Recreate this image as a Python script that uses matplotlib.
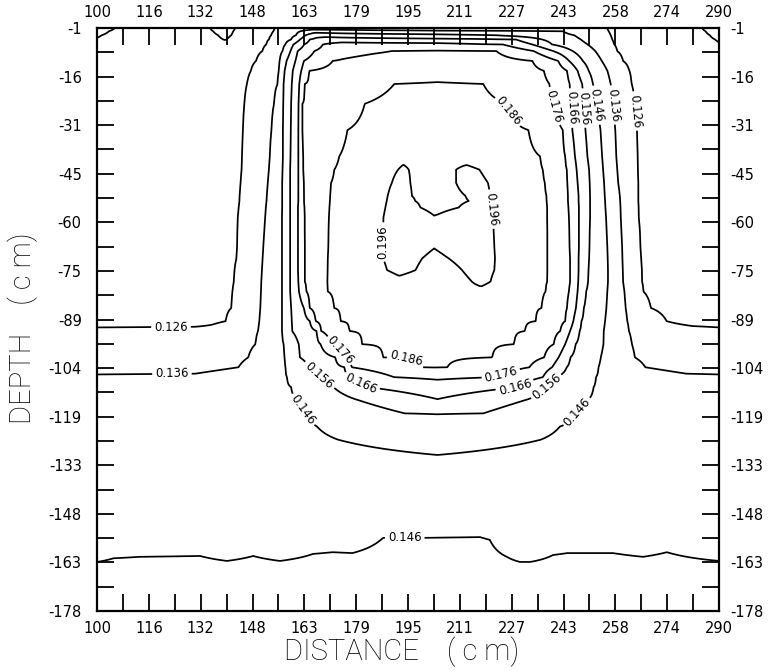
import numpy as np
import matplotlib
matplotlib.use("Agg")
import matplotlib.pyplot as plt

# ---------------------------------------------------------------- axis text
DIST_TICK_LABELS = ["100", "116", "132", "148", "163", "179", "195",
                    "211", "227", "243", "258", "274", "290"]
DEPTH_TICK_LABELS = ["-1", "-16", "-31", "-45", "-60", "-75", "-89",
                     "-104", "-119", "-133", "-148", "-163", "-178"]

LABELLED_LEVELS = [0.126, 0.136, 0.146, 0.156, 0.166, 0.176, 0.186, 0.196]
PLAIN_LEVELS = [0.116]

# where each isoline value is written (distance cm, depth cm)
LABEL_POINTS = [
    (122.6, -91.8), (122.9, -106.3),                      # 0.126 / 0.136 left
    (264.3, -26.2), (257.3, -24.4), (252.7, -24.4),       # right, upper part
    (248.6, -25.3), (245.0, -25.3), (239.8, -24.7), (227.0, -25.6),
    (187.4, -66.0), (220.5, -56.0),                       # 0.196
    (194.4, -102.7),                                      # 0.186
    (173.3, -99.4), (223.5, -106.6),                      # 0.176
    (180.6, -109.1), (227.8, -110.4),                     # 0.166
    (167.8, -106.6), (237.2, -109.4),                     # 0.156
    (163.5, -116.4), (246.4, -117.0), (194.0, -155.8),    # 0.146
]

# ------------------------------------------- lateral profiles (x cm, value)
p010 = [(100, 0.111), (105.5, 0.116), (112, 0.1195), (130, 0.1195), (134.5, 0.116),
        (139, 0.111), (142.2, 0.116), (148, 0.121), (154.4, 0.126), (160, 0.130),
        (250, 0.130), (255.8, 0.126), (262, 0.1215), (278, 0.1215), (284.8, 0.116),
        (290, 0.1105)]
p020 = [(100, 0.113), (103.6, 0.116), (110, 0.1195), (130, 0.1198), (135.5, 0.116),
        (139, 0.1128), (141.6, 0.116), (147, 0.1215), (153.9, 0.126), (162.1, 0.136),
        (166, 0.142), (185, 0.139), (204, 0.1375), (225, 0.137), (242.4, 0.136),
        (256.3, 0.126), (263, 0.1215), (278, 0.1215), (285.9, 0.116), (290, 0.112)]
p032 = [(100, 0.1152), (101.4, 0.116), (110, 0.1198), (130, 0.120), (137.0, 0.116),
        (139, 0.1145), (141.0, 0.116), (146, 0.121), (153.2, 0.126), (160.8, 0.136),
        (163.7, 0.146), (167, 0.153), (175, 0.151), (204, 0.1485), (222, 0.146),
        (230, 0.142), (245.8, 0.136), (256.9, 0.126), (263, 0.1215), (278, 0.1215),
        (287.2, 0.116), (290, 0.1135)]
p045 = [(100, 0.1165), (110, 0.1198), (130, 0.120), (138.6, 0.116), (139, 0.1158),
        (139.6, 0.116), (145, 0.121), (152.5, 0.126), (159.3, 0.136), (162.0, 0.146),
        (165.0, 0.156), (170, 0.161), (185, 0.159), (204, 0.158), (215, 0.1575),
        (228, 0.156), (236, 0.146), (247.8, 0.136), (257.4, 0.126), (263, 0.1215),
        (278, 0.1215), (288.8, 0.116), (290, 0.115)]
p060 = [(100, 0.118), (110, 0.120), (130, 0.1205), (139, 0.118), (145, 0.121),
        (151.7, 0.126), (157.5, 0.136), (160.0, 0.146), (163.3, 0.156), (169.0, 0.166),
        (175, 0.170), (204, 0.169), (218, 0.1665), (224, 0.166), (233, 0.156),
        (239, 0.146), (249.9, 0.136), (258.0, 0.126), (265, 0.1215), (280, 0.1215),
        (290, 0.1168)]
p080 = [(100, 0.1205), (130, 0.121), (143, 0.1215), (150.5, 0.126), (156.7, 0.136),
        (159.1, 0.146), (161.3, 0.156), (166.4, 0.166), (175, 0.173), (190, 0.176),
        (204, 0.1765), (222, 0.176), (233.4, 0.166), (239.4, 0.156), (245.3, 0.146),
        (252.2, 0.136), (258.9, 0.126), (266, 0.1215), (290, 0.121)]
p110 = [(100, 0.121), (140, 0.1215), (148.6, 0.126), (155.8, 0.136), (157.9, 0.146),
        (160.6, 0.156), (163.2, 0.166), (172.0, 0.176), (185, 0.179), (204, 0.180),
        (220, 0.1795), (233.0, 0.176), (240.9, 0.166), (244.2, 0.156), (248.4, 0.146),
        (254.2, 0.136), (260.7, 0.126), (268, 0.1215), (290, 0.121)]
p140 = [(100, 0.121), (139, 0.1215), (147.0, 0.126), (155.5, 0.136), (157.3, 0.146),
        (159.8, 0.156), (162.4, 0.166), (164.8, 0.176), (180, 0.181), (204, 0.183),
        (225, 0.1815), (236.5, 0.176), (243.6, 0.166), (246.8, 0.156), (250.2, 0.146),
        (255.9, 0.136), (262.6, 0.126), (270, 0.1215), (290, 0.121)]
p180 = [(100, 0.121), (138, 0.1215), (145.8, 0.126), (155.2, 0.136), (157.0, 0.146),
        (159.5, 0.156), (161.8, 0.166), (163.4, 0.176), (175, 0.182), (190.8, 0.186),
        (204, 0.1865), (218.0, 0.186), (230, 0.182), (238.2, 0.176), (244.4, 0.166),
        (248.2, 0.156), (251.5, 0.146), (256.9, 0.136), (263.3, 0.126), (271, 0.1215),
        (290, 0.121)]
p240 = [(100, 0.121), (137, 0.1215), (145.0, 0.126), (154.1, 0.136), (156.9, 0.146),
        (159.3, 0.156), (161.6, 0.166), (162.7, 0.176), (181.8, 0.186), (204, 0.189),
        (225.1, 0.186), (239.5, 0.176), (244.8, 0.166), (248.8, 0.156), (252.6, 0.146),
        (257.6, 0.136), (264.2, 0.126), (272, 0.1215), (290, 0.121)]
p320 = [(100, 0.121), (137, 0.1215), (144.6, 0.126), (153.3, 0.136), (156.8, 0.146),
        (159.2, 0.156), (161.5, 0.166), (162.7, 0.176), (176.5, 0.186), (204, 0.1915),
        (231.8, 0.186), (242.3, 0.176), (245.2, 0.166), (249.2, 0.156), (253.8, 0.146),
        (258.3, 0.136), (264.9, 0.126), (272, 0.1215), (290, 0.121)]
p400 = [(100, 0.121), (136, 0.1215), (144.3, 0.126), (152.8, 0.136), (156.8, 0.146),
        (159.1, 0.156), (161.5, 0.166), (162.9, 0.176), (174.0, 0.186), (193.5, 0.1935),
        (204, 0.193), (212, 0.1935), (235.4, 0.186), (243.0, 0.176), (246.0, 0.166),
        (249.8, 0.156), (254.3, 0.146), (258.6, 0.136), (265.1, 0.126), (273, 0.1215),
        (290, 0.121)]
p440 = [(100, 0.121), (136, 0.1215), (144.2, 0.126), (152.5, 0.136), (156.7, 0.146),
        (159.0, 0.156), (161.5, 0.166), (163.0, 0.176), (172.5, 0.186), (192.0, 0.196),
        (193.6, 0.1975), (195.2, 0.196), (202, 0.1935), (209.7, 0.196), (213, 0.1975),
        (216.8, 0.196), (236.2, 0.186), (243.5, 0.176), (246.5, 0.166), (250.3, 0.156),
        (254.6, 0.146), (258.9, 0.136), (265.2, 0.126), (273, 0.1215), (290, 0.121)]
p480 = [(100, 0.121), (136, 0.1215), (143.9, 0.126), (152.2, 0.136), (156.6, 0.146),
        (159.0, 0.156), (161.5, 0.166), (163.1, 0.176), (171.5, 0.186), (190.1, 0.196),
        (193, 0.1985), (195.7, 0.196), (202, 0.193), (209.7, 0.196), (214.5, 0.1985),
        (219.4, 0.196), (236.8, 0.186), (243.7, 0.176), (246.8, 0.166), (250.5, 0.156),
        (254.9, 0.146), (259.2, 0.136), (265.3, 0.126), (273, 0.1215), (290, 0.121)]
p520 = [(100, 0.121), (136, 0.1215), (143.6, 0.126), (151.9, 0.136), (156.6, 0.146),
        (159.0, 0.156), (161.5, 0.166), (163.2, 0.176), (171.2, 0.186), (188.8, 0.196),
        (192.5, 0.199), (196.2, 0.196), (204, 0.1935), (212.6, 0.196), (216.5, 0.199),
        (220.1, 0.196), (237.3, 0.186), (243.9, 0.176), (247.1, 0.166), (250.6, 0.156),
        (255.1, 0.146), (259.7, 0.136), (265.3, 0.126), (273, 0.1215), (290, 0.121)]
p535 = [(100, 0.121), (136, 0.1215), (143.5, 0.126), (151.8, 0.136), (156.6, 0.146),
        (159.0, 0.156), (161.5, 0.166), (163.2, 0.176), (171.1, 0.186), (188.5, 0.196),
        (192.5, 0.1992), (197.2, 0.196), (206, 0.1935), (213.6, 0.196), (217, 0.1992),
        (220.3, 0.196), (237.4, 0.186), (243.9, 0.176), (247.1, 0.166), (250.6, 0.156),
        (255.2, 0.146), (259.8, 0.136), (265.3, 0.126), (273, 0.1215), (290, 0.121)]
p555 = [(100, 0.121), (136, 0.1215), (143.3, 0.126), (151.6, 0.136), (156.6, 0.146),
        (159.0, 0.156), (161.4, 0.166), (163.3, 0.176), (171.0, 0.186), (188.1, 0.196),
        (193, 0.1995), (198.8, 0.196), (204, 0.1948), (210.5, 0.196), (216, 0.1995),
        (220.6, 0.196), (237.5, 0.186), (244.0, 0.176), (247.2, 0.166), (250.6, 0.156),
        (255.3, 0.146), (259.9, 0.136), (265.4, 0.126), (273, 0.1215), (290, 0.121)]
p585 = [(100, 0.121), (136, 0.1215), (143.0, 0.126), (151.4, 0.136), (156.5, 0.146),
        (159.0, 0.156), (161.4, 0.166), (163.4, 0.176), (170.8, 0.186), (187.5, 0.196),
        (193, 0.1995), (203, 0.1962), (215, 0.1995), (221.0, 0.196), (237.5, 0.186),
        (244.2, 0.176), (247.2, 0.166), (250.6, 0.156), (255.5, 0.146), (260.0, 0.136),
        (265.5, 0.126), (273, 0.1215), (290, 0.121)]
p630 = [(100, 0.121), (136, 0.1215), (142.9, 0.126), (151.1, 0.136), (156.5, 0.146),
        (159.0, 0.156), (161.4, 0.166), (163.4, 0.176), (170.7, 0.186), (187.4, 0.196),
        (195, 0.200), (210, 0.200), (221.2, 0.196), (237.6, 0.186), (244.3, 0.176),
        (247.2, 0.166), (250.5, 0.156), (255.7, 0.146), (260.2, 0.136), (265.8, 0.126),
        (273, 0.1215), (290, 0.121)]
p675 = [(100, 0.121), (136, 0.1215), (142.8, 0.126), (150.8, 0.136), (156.5, 0.146),
        (159.0, 0.156), (161.4, 0.166), (163.5, 0.176), (170.6, 0.186), (187.4, 0.196),
        (194, 0.1995), (203, 0.1962), (213, 0.1995), (221.4, 0.196), (237.6, 0.186),
        (244.4, 0.176), (247.2, 0.166), (250.4, 0.156), (255.9, 0.146), (260.4, 0.136),
        (266.0, 0.126), (274, 0.1215), (290, 0.121)]
p710 = [(100, 0.121), (136, 0.1215), (142.6, 0.126), (150.6, 0.136), (156.5, 0.146),
        (159.0, 0.156), (161.4, 0.166), (163.5, 0.176), (170.5, 0.186), (187.4, 0.196),
        (193, 0.1985), (199.3, 0.196), (203, 0.1945), (207.5, 0.196), (215, 0.1985),
        (221.6, 0.196), (237.6, 0.186), (244.5, 0.176), (247.1, 0.166), (250.3, 0.156),
        (256.0, 0.146), (260.5, 0.136), (266.2, 0.126), (274, 0.1215), (290, 0.121)]
p745 = [(100, 0.121), (135, 0.1215), (142.0, 0.126), (150.4, 0.136), (156.5, 0.146),
        (159.0, 0.156), (161.4, 0.166), (163.5, 0.176), (170.4, 0.186), (188.6, 0.196),
        (192.5, 0.1975), (197.3, 0.196), (204, 0.193), (211.5, 0.196), (216.5, 0.198),
        (221.4, 0.196), (237.6, 0.186), (244.5, 0.176), (247.1, 0.166), (250.1, 0.156),
        (256.1, 0.146), (260.6, 0.136), (266.4, 0.126), (274, 0.1215), (290, 0.121)]
p780 = [(100, 0.121), (134, 0.1215), (141.8, 0.126), (150.2, 0.136), (156.5, 0.146),
        (159.0, 0.156), (161.5, 0.166), (163.5, 0.176), (170.3, 0.186), (192, 0.1945),
        (204, 0.192), (214.5, 0.196), (217.5, 0.1975), (220.2, 0.196), (237.5, 0.186),
        (244.5, 0.176), (247.0, 0.166), (250.0, 0.156), (256.1, 0.146), (260.7, 0.136),
        (266.5, 0.126), (274, 0.1215), (290, 0.121)]
p810 = [(100, 0.121), (134, 0.1215), (141.4, 0.126), (150.1, 0.136), (156.5, 0.146),
        (159.0, 0.156), (161.7, 0.166), (164.0, 0.176), (170.5, 0.186), (195, 0.1925),
        (217, 0.1945), (237.0, 0.186), (244.2, 0.176), (246.8, 0.166), (249.4, 0.156),
        (255.9, 0.146), (261.1, 0.136), (266.9, 0.126), (275, 0.1215), (290, 0.121)]
p860 = [(100, 0.1215), (130, 0.122), (141.0, 0.126), (149.9, 0.136), (156.5, 0.146),
        (159.3, 0.156), (163.2, 0.166), (165.0, 0.176), (172.4, 0.186), (204, 0.191),
        (235.8, 0.186), (243.6, 0.176), (246.3, 0.166), (248.7, 0.156), (255.6, 0.146),
        (261.5, 0.136), (269.2, 0.126), (280, 0.122), (290, 0.1215)]
p900 = [(100, 0.1225), (130, 0.1228), (139.3, 0.126), (149.6, 0.136), (156.5, 0.146),
        (159.5, 0.156), (165.0, 0.166), (166.8, 0.176), (174.4, 0.186), (204, 0.1895),
        (234.0, 0.186), (243.0, 0.176), (245.5, 0.166), (248.0, 0.156), (255.2, 0.146),
        (262.0, 0.136), (274.0, 0.126), (282, 0.1228), (290, 0.1225)]
p930 = [(100, 0.128), (135, 0.1285), (149.2, 0.136), (156.5, 0.146), (159.6, 0.156),
        (167.1, 0.166), (168.5, 0.176), (177.1, 0.186), (204, 0.1885), (230.7, 0.186),
        (241.5, 0.176), (244.5, 0.166), (247.4, 0.156), (254.8, 0.146), (262.5, 0.136),
        (270, 0.131), (290, 0.128)]
p970 = [(100, 0.1295), (135, 0.130), (148.4, 0.136), (157.0, 0.146), (161.6, 0.156),
        (168.3, 0.166), (171.5, 0.176), (181.0, 0.186), (204, 0.1875), (227.4, 0.186),
        (239.5, 0.176), (243.0, 0.166), (246.2, 0.156), (254.7, 0.146), (263.4, 0.136),
        (272, 0.1305), (290, 0.1295)]
p1010 = [(100, 0.1305), (135, 0.131), (146.2, 0.136), (157.3, 0.146), (162.0, 0.156),
         (172.8, 0.166), (174.8, 0.176), (187.4, 0.186), (204, 0.1868), (220.7, 0.186),
         (236.6, 0.176), (241.0, 0.166), (244.6, 0.156), (253.9, 0.146), (264.3, 0.136),
         (275, 0.1315), (290, 0.1305)]
p1040 = [(100, 0.132), (130, 0.1323), (143.2, 0.136), (157.6, 0.146), (165.0, 0.156),
         (175.6, 0.166), (177.8, 0.176), (199.5, 0.186), (203, 0.1862), (207, 0.186),
         (232.1, 0.176), (239.0, 0.166), (243.5, 0.156), (253.2, 0.146), (267.5, 0.136),
         (280, 0.1323), (290, 0.132)]
p1070 = [(100, 0.1375), (130, 0.138), (158.0, 0.146), (168.3, 0.156), (177.2, 0.166),
         (190.7, 0.176), (204, 0.1775), (222, 0.176), (236.2, 0.166), (240.2, 0.156),
         (252.4, 0.146), (280, 0.138), (290, 0.1375)]
p1100 = [(100, 0.139), (130, 0.1395), (159.3, 0.146), (172.2, 0.156), (182.4, 0.166),
         (204, 0.1718), (228.8, 0.166), (236.8, 0.156), (251.7, 0.146), (280, 0.1395),
         (290, 0.139)]
p1140 = [(100, 0.140), (130, 0.1405), (161.7, 0.146), (179.9, 0.156), (204, 0.1655),
         (230.7, 0.156), (249.6, 0.146), (280, 0.1405), (290, 0.140)]
p1180 = [(100, 0.1405), (130, 0.141), (164.7, 0.146), (194, 0.156), (204, 0.1563),
         (218, 0.156), (245.4, 0.146), (280, 0.141), (290, 0.1405)]
p1220 = [(100, 0.141), (130, 0.1415), (167.2, 0.146), (204, 0.152), (241.4, 0.146),
         (280, 0.1415), (290, 0.141)]
p1260 = [(100, 0.1415), (130, 0.142), (173.7, 0.146), (204, 0.1485), (235.5, 0.146),
         (280, 0.142), (290, 0.1415)]
p1310 = [(100, 0.142), (130, 0.1425), (204, 0.1458), (280, 0.1425), (290, 0.142)]
p1400 = [(100, 0.1425), (204, 0.1445), (290, 0.1425)]
p1540 = [(100, 0.1397), (105, 0.1420), (113, 0.1426), (131.5, 0.1429), (139.7, 0.1405),
         (147.7, 0.1429), (155.9, 0.1405), (166, 0.1435), (172, 0.1439), (178, 0.1437),
         (182.5, 0.1446), (187.4, 0.14565), (200, 0.14565), (217, 0.1457), (220, 0.1455),
         (225.2, 0.1426), (229.2, 0.1397), (232.3, 0.1397), (239.3, 0.1432),
         (243.6, 0.1437), (257.6, 0.1437), (266.8, 0.1426), (274.1, 0.1439), (290, 0.1405)]
p1660 = [(100, 0.148), (290, 0.148)]
p1780 = [(100, 0.149), (290, 0.149)]

PROFILES = [
    (-1.0, p010), (-2.0, p020), (-3.2, p032), (-4.5, p045), (-6.0, p060),
    (-8.0, p080), (-11.0, p110), (-14.0, p140), (-18.0, p180), (-24.0, p240),
    (-32.0, p320), (-40.0, p400), (-44.0, p440), (-48.0, p480), (-52.0, p520),
    (-53.5, p535), (-55.5, p555), (-58.5, p585), (-63.0, p630), (-67.5, p675),
    (-71.0, p710), (-74.5, p745), (-78.0, p780), (-81.0, p810), (-86.0, p860),
    (-90.0, p900), (-93.0, p930), (-97.0, p970), (-101.0, p1010), (-104.0, p1040),
    (-107.0, p1070), (-110.0, p1100), (-114.0, p1140), (-118.0, p1180),
    (-122.0, p1220), (-126.0, p1260), (-131.0, p1310), (-140.0, p1400),
    (-154.0, p1540), (-166.0, p1660), (-178.0, p1780),
]

# ------------------------------------------------------------- field grid
rows = sorted(PROFILES, key=lambda r: r[0])
depth = np.array([r[0] for r in rows])
dist = np.linspace(100.0, 290.0, 761)
field = np.vstack([np.interp(dist, [k[0] for k in prof], [k[1] for k in prof])
                   for _, prof in rows])

# ------------------------------------------------------------------ figure
W, H = 775, 671
fig = plt.figure(figsize=(W / 100, H / 100), dpi=100)
ax = fig.add_axes([97 / W, (H - 611) / H, 622 / W, 583 / H])

line_style = dict(colors="black", linewidths=1.25)
ax.contour(dist, depth, field, levels=PLAIN_LEVELS, **line_style)
cs = ax.contour(dist, depth, field, levels=LABELLED_LEVELS, **line_style)
ax.clabel(cs, manual=LABEL_POINTS, inline=True, fmt="%.3f",
          fontsize=8.5, inline_spacing=3)

ax.set_xlim(100, 290)
ax.set_ylim(-178, -1)

xmaj = np.linspace(100, 290, 13)
ymaj = np.linspace(-1, -178, 13)
xmin = (xmaj[:-1] + xmaj[1:]) / 2
ymin = (ymaj[:-1] + ymaj[1:]) / 2

ax.set_xticks(xmaj, DIST_TICK_LABELS)
ax.set_yticks(ymaj, DEPTH_TICK_LABELS)
ax.set_xticks(xmin, minor=True)
ax.set_yticks(ymin, minor=True)
ax.tick_params(which="both", direction="in", length=12, width=1.3,
               top=True, right=True, bottom=True, left=True)
ax.tick_params(axis="x", which="major", labelsize=10.5, pad=7)
ax.tick_params(axis="y", which="major", labelsize=10.5, pad=11)
for s in ax.spines.values():
    s.set_linewidth(1.6)

top = ax.secondary_xaxis("top")
top.set_xticks(xmaj, DIST_TICK_LABELS)
top.tick_params(length=0, labelsize=10.5, pad=6)
right = ax.secondary_yaxis("right")
right.set_yticks(ymaj, DEPTH_TICK_LABELS)
right.tick_params(length=0, labelsize=10.5, pad=8)
for sec in (top, right):
    for s in sec.spines.values():
        s.set_visible(False)

label_font = dict(family=["Roboto", "DejaVu Sans"], weight="light", size=21)
fig.text(402 / W, 1 - 652 / H, "DISTANCE    ( c m)", ha="center", va="center",
         **label_font)
fig.text(23 / W, 1 - 328 / H, "DEPTH    ( c m)", ha="center", va="center",
         rotation=90, **label_font)

fig.savefig("out.png", dpi=100)
